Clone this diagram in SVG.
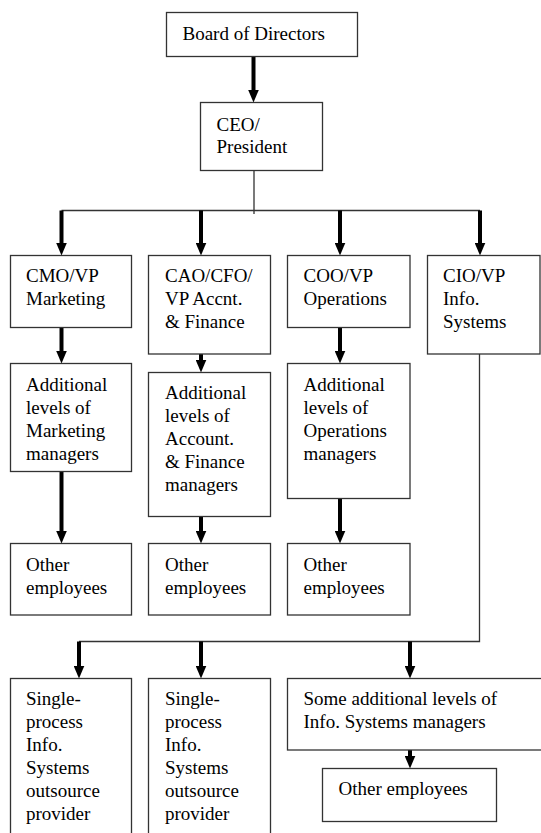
<svg xmlns="http://www.w3.org/2000/svg" width="541" height="833" viewBox="0 0 541 833">
  <style>
    .box { fill: #fff; stroke: #333; stroke-width: 1.3; }
    .lbl { font-family: "Liberation Serif", "Times New Roman", serif; font-size: 19px; fill: #000; }
    .thick { stroke: #000; stroke-width: 4; fill: none; marker-end: url(#head); }
    .thin { stroke: #333; stroke-width: 1.3; fill: none; }
  </style>
  <defs>
    <marker id="head" markerUnits="userSpaceOnUse" markerWidth="13" markerHeight="11" refX="5" refY="5.5" orient="auto">
      <path d="M0,0 L13,5.5 L0,11 z" fill="#000"/>
    </marker>
  </defs>
  <rect width="541" height="833" fill="#fff"/>

  <!-- connectors -->
  <g id="connectors">
    <path class="thick" d="M253.5,56.5 V94.5"/>
    <path class="thin" d="M254,170.5 V214 M61.5,210.5 H480"/>
    <path class="thick" d="M61.5,210.5 V247.5"/>
    <path class="thick" d="M201,210.5 V247.5"/>
    <path class="thick" d="M340,210.5 V247.5"/>
    <path class="thick" d="M480,210.5 V247.5"/>
    <path class="thick" d="M61.5,327.5 V355.5"/>
    <path class="thick" d="M201,354 V364.5"/>
    <path class="thick" d="M340,327.5 V355.5"/>
    <path class="thick" d="M61.5,471.5 V535.5"/>
    <path class="thick" d="M201,516.5 V535.5"/>
    <path class="thick" d="M340,498.5 V535.5"/>
    <path class="thin" d="M479.5,354 V641.5 H79"/>
    <path class="thick" d="M79,641.5 V670.5"/>
    <path class="thick" d="M201,641.5 V670.5"/>
    <path class="thick" d="M410,641.5 V670.5"/>
    <path class="thick" d="M410,750 V760.5"/>
  </g>

  <g id="board">
    <rect class="box" x="166.5" y="12.5" width="191" height="44"/>
    <text class="lbl" x="182.5" y="39.5">Board of Directors</text>
  </g>
  <g id="ceo">
    <rect class="box" x="200.5" y="102.5" width="122" height="68"/>
    <text class="lbl" x="216.5" y="130.5">CEO/<tspan x="216.5" dy="22.5">President</tspan></text>
  </g>

  <g id="cmo">
    <rect class="box" x="10.5" y="255.5" width="121" height="72"/>
    <text class="lbl" x="26" y="281.5">CMO/VP<tspan x="26" dy="23">Marketing</tspan></text>
  </g>
  <g id="cao">
    <rect class="box" x="148.5" y="255.5" width="122" height="98.5"/>
    <text class="lbl" x="165" y="281.5">CAO/CFO/<tspan x="165" dy="23">VP Accnt.</tspan><tspan x="165" dy="23">&amp; Finance</tspan></text>
  </g>
  <g id="coo">
    <rect class="box" x="287.5" y="255.5" width="122.5" height="72"/>
    <text class="lbl" x="303.5" y="281.5">COO/VP<tspan x="303.5" dy="23">Operations</tspan></text>
  </g>
  <g id="cio">
    <rect class="box" x="427.5" y="255.5" width="112.5" height="98.5"/>
    <text class="lbl" x="443" y="281.5">CIO/VP<tspan x="443" dy="23">Info.</tspan><tspan x="443" dy="23">Systems</tspan></text>
  </g>

  <g id="mkt-managers">
    <rect class="box" x="10.5" y="363.5" width="121" height="108"/>
    <text class="lbl" x="26" y="390.5">Additional<tspan x="26" dy="23">levels of</tspan><tspan x="26" dy="23">Marketing</tspan><tspan x="26" dy="23">managers</tspan></text>
  </g>
  <g id="fin-managers">
    <rect class="box" x="148.5" y="372.5" width="122" height="144"/>
    <text class="lbl" x="165" y="398.5">Additional<tspan x="165" dy="23">levels of</tspan><tspan x="165" dy="23">Account.</tspan><tspan x="165" dy="23">&amp; Finance</tspan><tspan x="165" dy="23">managers</tspan></text>
  </g>
  <g id="ops-managers">
    <rect class="box" x="287.5" y="363.5" width="122.5" height="135"/>
    <text class="lbl" x="303.5" y="390.5">Additional<tspan x="303.5" dy="23">levels of</tspan><tspan x="303.5" dy="23">Operations</tspan><tspan x="303.5" dy="23">managers</tspan></text>
  </g>

  <g id="mkt-employees">
    <rect class="box" x="10.5" y="543.5" width="121" height="71.5"/>
    <text class="lbl" x="26" y="570.5">Other<tspan x="26" dy="23">employees</tspan></text>
  </g>
  <g id="fin-employees">
    <rect class="box" x="148.5" y="543.5" width="122" height="71.5"/>
    <text class="lbl" x="165" y="570.5">Other<tspan x="165" dy="23">employees</tspan></text>
  </g>
  <g id="ops-employees">
    <rect class="box" x="287.5" y="543.5" width="122.5" height="71.5"/>
    <text class="lbl" x="303.5" y="570.5">Other<tspan x="303.5" dy="23">employees</tspan></text>
  </g>

  <g id="outsource-1">
    <rect class="box" x="10.5" y="678.5" width="121" height="170"/>
    <text class="lbl" x="26" y="705">Single-<tspan x="26" dy="22.9">process</tspan><tspan x="26" dy="22.9">Info.</tspan><tspan x="26" dy="22.9">Systems</tspan><tspan x="26" dy="22.9">outsource</tspan><tspan x="26" dy="22.9">provider</tspan></text>
  </g>
  <g id="outsource-2">
    <rect class="box" x="148.5" y="678.5" width="122" height="170"/>
    <text class="lbl" x="165" y="705">Single-<tspan x="165" dy="22.9">process</tspan><tspan x="165" dy="22.9">Info.</tspan><tspan x="165" dy="22.9">Systems</tspan><tspan x="165" dy="22.9">outsource</tspan><tspan x="165" dy="22.9">provider</tspan></text>
  </g>
  <g id="is-managers">
    <rect class="box" x="287.5" y="678.5" width="260" height="71.5"/>
    <text class="lbl" x="303.5" y="705">Some additional levels of<tspan x="303.5" dy="22.9">Info. Systems managers</tspan></text>
  </g>
  <g id="is-employees">
    <rect class="box" x="322.5" y="768.5" width="174" height="53"/>
    <text class="lbl" x="338.5" y="795">Other employees</text>
  </g>
</svg>
